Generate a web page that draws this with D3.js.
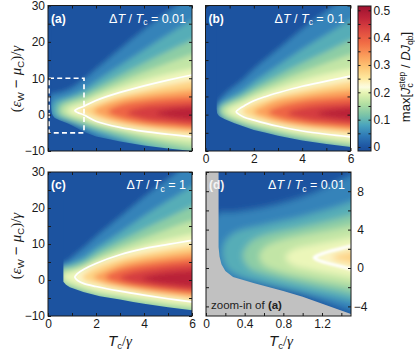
<!DOCTYPE html>
<html>
<head>
<meta charset="utf-8">
<script src="https://cdn.jsdelivr.net/npm/d3@7"></script>
<style>
body { margin: 0; background: #fff; }
svg { display: block; font-family: "Liberation Sans", Arial, Helvetica, sans-serif; }
</style>
</head>
<body>
<div id="chart"></div>
<script>
// ---- data ----
// contour levels of max[J/DJ]; each contour is a list of [Tc/gamma, (eps-mu)/gamma] points
var levels = [0.03, 0.07, 0.11, 0.15, 0.19, 0.215, 0.25, 0.30, 0.36, 0.42, 0.46];

// panel (a) dT/Tc = 0.01 (also shown zoomed in panel d)
var contoursA = [
  [[6.5,35.5],[6,33],[5,28.3],[4,23.3],[3,18],[2,12.5],[1.5,9.7],[1,7.4],[0.6,6.3],[0.3,5.8],[0.12,5.6],[0.05,3],[0.08,0],[0.2,-1.0],[0.5,-1.7],[1,-2.8],[1.5,-4.5],[2,-6.3],[3,-8],[4,-10],[5,-11.5],[6,-12.5],[6.5,-13]],
  [[6.5,28],[6,26],[5,22],[4,17.8],[3,13.5],[2,9.2],[1.5,6.9],[1,5.4],[0.6,4.5],[0.3,3.7],[0.2,2.8],[0.17,1.5],[0.22,0],[0.35,-0.8],[0.6,-1.5],[1,-2.4],[1.5,-3.5],[2,-4.8],[3,-7.0],[4,-9.2],[5,-11],[6,-12],[6.5,-12.5]],
  [[6.5,22],[6,20.5],[5,17.4],[4,14.2],[3,10.8],[2,7.3],[1.5,5.5],[1,4.3],[0.6,3.4],[0.45,2.6],[0.38,1.3],[0.45,0],[0.6,-0.6],[1,-1.6],[1.5,-2.7],[2,-3.9],[3,-5.9],[4,-7.8],[5,-9.3],[6,-10.5],[6.5,-11]],
  [[6.5,17.5],[6,16.5],[5,14.2],[4,11.7],[3,9.0],[2,6.0],[1.5,4.4],[1,3.4],[0.75,2.8],[0.6,2.1],[0.55,1.2],[0.6,0.3],[0.75,-0.3],[1,-0.9],[1.5,-1.9],[2,-3.0],[3,-4.7],[4,-6.3],[5,-7.7],[6,-9.0],[6.5,-9.5]],
  [[6.5,13.4],[6,12.7],[5,11.3],[4,9.5],[3,7.3],[2,4.8],[1.5,3.2],[1.1,2.4],[0.9,1.9],[0.82,1.1],[0.9,0.3],[1.1,-0.2],[1.5,-1.0],[2,-2.3],[3,-3.9],[4,-5.3],[5,-6.4],[6,-7.2],[6.5,-7.6]],
  [[6.5,11.5],[6,10.9],[5,9.5],[4,7.9],[3,6.1],[2,3.9],[1.5,2.3],[1.3,1.8],[1.18,1.4],[1.12,1.08],[1.18,0.75],[1.3,0.4],[1.5,-0.1],[2,-1.8],[3,-3.5],[4,-4.6],[5,-5.4],[6,-6.1],[6.5,-6.4]],
  [[6.5,10],[6,9.4],[5,8.2],[4,6.8],[3,5.3],[2,3.1],[1.5,1.75],[1.35,1.4],[1.3,1.1],[1.35,0.8],[1.5,0.45],[2,-1.0],[3,-2.8],[4,-3.9],[5,-4.7],[6,-5.4],[6.5,-5.7]],
  [[6.5,7.4],[6,7.0],[5,6.2],[4,5.3],[3,4.1],[2.3,2.6],[1.9,1.0],[2.3,-0.5],[3,-1.9],[4,-3.1],[5,-3.8],[6,-4.3],[6.5,-4.6]],
  [[6.5,5.3],[6,5.0],[5,4.5],[4,3.8],[3,2.6],[2.5,0.8],[3,-0.8],[4,-2.3],[5,-3.0],[6,-3.6],[6.5,-3.9]],
  [[6.5,3.5],[6,3.2],[5,2.8],[4,2.1],[3.3,0.5],[4,-1.2],[5,-2.0],[6,-2.6],[6.5,-2.9]],
  [[6.5,2.3],[6,2.0],[5,1.3],[4.5,0.4],[5,-0.6],[6,-1.4],[6.5,-1.7]]
];
// region with no data in (a) / (d)
var maskA = [[-1,45],[0.13,45],[0.13,2.2],[0.14,1.2],[0.16,0.4],[0.2,-0.3],[0.28,-0.95],[0.5,-1.6],[0.8,-2.4],[1.0,-3.0],[1.5,-4.8],[2,-6.0],[3,-7.4],[4,-8.5],[5,-9.3],[6,-10.0],[7,-10.6],[7,-15],[-1,-15]];

// panel (b) dT/Tc = 0.1
var contoursB = [
  [[6.5,35.5],[6,33],[5,28.5],[4,23.5],[3,18],[2,12.5],[1.5,9.3],[1,6.8],[0.7,5],[0.55,3.6],[0.47,2.4],[0.44,1.2],[0.47,0],[0.6,-1.2],[1,-2.6],[2,-5],[3,-6.6],[4,-8.1],[5,-9.2],[6,-10.1],[6.5,-10.6]],
  [[6.5,28],[6,26],[5,22],[4,18],[3,13.5],[2,9.0],[1.5,6.5],[1,4.6],[0.7,3.5],[0.55,2.6],[0.5,1.3],[0.55,0],[0.7,-1.1],[1,-2.1],[2,-4.5],[3,-6.2],[4,-7.6],[5,-8.8],[6,-9.7],[6.5,-10.2]],
  [[6.5,22],[6,20.5],[5,17.3],[4,14.2],[3,10.8],[2,7.2],[1.5,5.2],[1,3.6],[0.75,2.7],[0.62,2.0],[0.56,1.2],[0.62,0.2],[0.75,-0.7],[1,-1.6],[1.5,-2.9],[2,-3.9],[3,-5.6],[4,-7.0],[5,-8.1],[6,-9.1],[6.5,-9.6]],
  [[6.5,17.5],[6,16.5],[5,14.2],[4,11.7],[3,9.0],[2,6.0],[1.5,4.3],[1,2.9],[0.8,2.2],[0.68,1.1],[0.8,0],[1,-0.8],[1.5,-2.0],[2,-3.0],[3,-4.7],[4,-6.1],[5,-7.3],[6,-8.3],[6.5,-8.8]],
  [[6.5,13.4],[6,12.7],[5,11.3],[4,9.5],[3,7.3],[2,4.8],[1.5,3.2],[1.1,2.1],[0.9,1.0],[1.1,-0.1],[1.5,-1.2],[2,-2.3],[3,-3.8],[4,-5.2],[5,-6.3],[6,-7.1],[6.5,-7.5]],
  [[6.5,11.2],[6,10.6],[5,9.2],[4,7.8],[3,6.0],[2.5,5.0],[2,3.8],[1.6,2.4],[1.4,1.6],[1.27,0.8],[1.4,0.0],[1.6,-0.7],[2,-1.5],[2.5,-2.4],[3,-3.2],[4,-4.5],[5,-5.4],[6,-6.1],[6.5,-6.4]],
  [[6.5,9.8],[6,9.2],[5,8.0],[4,6.7],[3,5.2],[2,3.0],[1.7,2.0],[1.5,0.9],[1.7,-0.2],[2,-0.9],[3,-2.6],[4,-3.8],[5,-4.6],[6,-5.3],[6.5,-5.6]],
  [[6.5,7.4],[6,7.0],[5,6.2],[4,5.2],[3,4.0],[2.4,2.4],[2.0,0.8],[2.4,-0.6],[3,-1.9],[4,-3.0],[5,-3.7],[6,-4.3],[6.5,-4.6]],
  [[6.5,5.3],[6,5.0],[5,4.4],[4,3.7],[3.1,2.3],[2.6,0.6],[3.1,-0.9],[4,-2.2],[5,-3.0],[6,-3.5],[6.5,-3.8]],
  [[6.5,3.4],[6,3.1],[5,2.7],[4.1,1.9],[3.4,0.4],[4.1,-1.1],[5,-1.9],[6,-2.5],[6.5,-2.8]],
  [[6.5,2.2],[6,1.9],[5.1,1.2],[4.6,0.3],[5.1,-0.6],[6,-1.3],[6.5,-1.6]]
];
var maskB = [[-1,45],[0.46,45],[0.46,1.6],[0.48,0.4],[0.53,-0.2],[0.6,-0.6],[0.8,-1.3],[1.2,-2.4],[2,-4.2],[2.5,-5.0],[3,-5.8],[4,-7.1],[5,-8.1],[6,-8.9],[7,-9.6],[7,-15],[-1,-15]];

// panel (c) dT/Tc = 1
var contoursC = [
  [[6.5,35.5],[6,33],[5,28],[4,23],[3,17.5],[2,12],[1.5,9],[1,6.3],[0.8,5.2],[0.6,4.6],[0.5,3],[0.55,-2],[1,-4],[3,-8],[6.5,-12]],
  [[6.5,28],[6,26],[5,22],[4,17.8],[3,13.2],[2,8.8],[1.5,6.3],[1,4.7],[0.8,4.2],[0.6,3.9],[0.5,2],[0.55,-1.5],[1,-3],[3,-7],[6.5,-11]],
  [[6.5,22],[6,20.5],[5,17.3],[4,14.2],[3,10.8],[2,7.2],[1.5,5.0],[1,3.8],[0.8,3.5],[0.6,3.3],[0.55,1.5],[0.6,-1.3],[1,-2.6],[1.5,-3.8],[2,-4.9],[3,-6.2],[4,-7.4],[5,-8.4],[6,-9.2],[6.5,-9.6]],
  [[6.5,17.5],[6,16.5],[5,14.2],[4,11.7],[3,9.0],[2,6.0],[1.5,4.2],[1,3.0],[0.8,2.7],[0.6,2.5],[0.56,1.0],[0.6,-0.7],[0.8,-1.3],[1,-1.8],[1.5,-2.9],[2,-3.9],[3,-5.0],[4,-6.2],[5,-7.2],[6,-8.0],[6.5,-8.4]],
  [[6.5,13.4],[6,12.8],[5,11.4],[4,9.6],[3,7.4],[2,4.9],[1.5,3.3],[1,2.2],[0.8,1.8],[0.62,1.0],[0.8,0],[1,-0.7],[1.5,-1.9],[2,-2.9],[3,-4.2],[4,-5.3],[5,-6.3],[6,-7.1],[6.5,-7.5]],
  [[6.5,11.6],[6,11.0],[5,9.9],[4,8.7],[3,7.0],[2,4.6],[1.5,3.0],[1.25,1.9],[1.15,1.2],[1.12,0.8],[1.15,0.4],[1.25,-0.2],[1.5,-1.0],[2,-1.8],[3,-3.1],[4,-4.2],[5,-5.2],[6,-6.1],[6.5,-6.5]],
  [[6.5,10.3],[6,9.7],[5,8.6],[4,7.4],[3,5.9],[2,3.6],[1.6,2.0],[1.4,0.8],[1.6,-0.3],[2,-1.0],[3,-2.5],[4,-3.6],[5,-4.6],[6,-5.4],[6.5,-5.8]],
  [[6.5,8.2],[6,7.8],[5,6.9],[4,5.9],[3,4.4],[2.3,2.4],[1.9,0.8],[2.3,-0.6],[3,-1.7],[4,-2.9],[5,-3.8],[6,-4.6],[6.5,-5.0]],
  [[6.5,6.3],[6,6.0],[5,5.3],[4,4.4],[3,2.9],[2.4,0.8],[3,-1.0],[4,-2.1],[5,-3.0],[6,-3.7],[6.5,-4.0]],
  [[6.5,4.5],[6,4.3],[5,3.7],[4,2.7],[3.4,1.8],[3.0,0.7],[3.4,-0.5],[4,-1.3],[5,-2.2],[6,-2.9],[6.5,-3.2]],
  [[6.5,2.9],[6,2.6],[5,2.0],[4.3,1.2],[3.9,0.5],[4.3,-0.4],[5,-1.1],[6,-1.8],[6.5,-2.1]]
];
var maskC = [[-1,45],[0.64,45],[0.64,-0.5],[0.75,-1.3],[0.91,-2.0],[1.47,-3.3],[2.16,-4.5],[3,-5.4],[3.55,-6.1],[4,-6.6],[5,-7.6],[6,-8.4],[7,-9.1],[7,-15],[-1,-15]];

// ticks and labels
var xTicksMain = [0, 1, 2, 3, 4, 5, 6];
var xLabelsMain = [0, 2, 4, 6];
var yTicksMain = [-10, -5, 0, 5, 10, 15, 20, 25, 30];
var yLabelsMain = [-10, 0, 10, 20, 30];
var xTicksZoom = [0, 0.2, 0.4, 0.6, 0.8, 1.0, 1.2, 1.4];
var xLabelsZoom = [0, 0.4, 0.8, 1.2];
var yTicksZoom = [-4, -2, 0, 2, 4, 6, 8, 10];
var yLabelsZoom = [-4, 0, 4, 8];
var cbTicks = [0, 0.05, 0.1, 0.15, 0.2, 0.25, 0.3, 0.35, 0.4, 0.45, 0.5];
var cbLabels = [0, 0.1, 0.2, 0.3, 0.4, 0.5];
var dtValues = ['0.01', '0.1', '1', '0.01'];

// ---- drawing ----
var width = 415, height = 350;
var bg = '#1c53a0', grey = '#c1c1c1', ink = '#1a1a1a';
var serif = '"Liberation Serif", "Times New Roman", serif';

var cmap = d3.scaleLinear()
  .domain([-0.02, 0, 0.04, 0.08, 0.12, 0.16, 0.2, 0.22, 0.25, 0.29, 0.33, 0.38, 0.43, 0.47, 0.52])
  .range(['#1a4e9c', '#1c53a0', '#2e78b7', '#4aa4bd', '#7fc6a6', '#b6e0a2', '#e8f5b3', '#fdfde3', '#fee9a0', '#fdc877', '#fba15c', '#f26d45', '#dc4640', '#c0263a', '#9c0f2e'])
  .clamp(true);

function bandValue(i) {
  var hi = i + 1 < levels.length ? levels[i + 1] : 0.5;
  return (levels[i] + hi) / 2;
}

var svg = d3.select('#chart').append('svg')
  .attr('width', width)
  .attr('height', height);
var defs = svg.append('defs');

function addBlur(id, sdx, sdy) {
  defs.append('filter').attr('id', id)
    .attr('x', '-5%').attr('y', '-5%').attr('width', '110%').attr('height', '110%')
    .append('feGaussianBlur').attr('stdDeviation', sdx + ' ' + sdy);
}
addBlur('blurMain', 2.6, 2.4);
addBlur('blurZoom', 3.4, 3);
addBlur('lineMain', 0.45, 0.45);
addBlur('lineZoom', 1.1, 1.1);

function dtLabel(g, xr, yb, val) {
  var t = g.append('text')
    .attr('x', xr).attr('y', yb)
    .attr('text-anchor', 'end')
    .attr('fill', '#fff')
    .style('font-size', '12.5px');
  t.append('tspan').text('\u0394');
  t.append('tspan').style('font-style', 'italic').text('T');
  t.append('tspan').text(' / ');
  t.append('tspan').style('font-style', 'italic').text('T');
  t.append('tspan').attr('dy', 2.5).style('font-size', '8.5px').text('c');
  t.append('tspan').attr('dy', -2.5).text(' = ' + val);
}

function panel(p) {
  var x = d3.scaleLinear().domain(p.xd).range([p.x0, p.x1]);
  var y = d3.scaleLinear().domain(p.yd).range([p.y1, p.y0]);
  var g = svg.append('g').attr('class', 'panel');

  defs.append('clipPath').attr('id', 'clip-' + p.id)
    .append('rect')
    .attr('x', p.x0).attr('y', p.y0)
    .attr('width', p.x1 - p.x0).attr('height', p.y1 - p.y0);

  var plot = g.append('g').attr('clip-path', 'url(#clip-' + p.id + ')');

  var smooth = d3.line()
    .x(function(d){ return x(d[0]); })
    .y(function(d){ return y(d[1]); })
    .curve(d3.curveCatmullRom.alpha(0.5));
  var straight = d3.line()
    .x(function(d){ return x(d[0]); })
    .y(function(d){ return y(d[1]); });

  var bands = plot.append('g').attr('filter', 'url(#' + p.blur + ')');
  bands.append('rect')
    .attr('x', p.x0 - 20).attr('y', p.y0 - 20)
    .attr('width', p.x1 - p.x0 + 40).attr('height', p.y1 - p.y0 + 40)
    .attr('fill', bg);
  bands.selectAll('path.band')
    .data(p.contours)
    .enter()
    .append('path')
    .attr('class', 'band')
    .attr('d', function(d){ return smooth(d) + 'Z'; })
    .attr('fill', function(d, i){ return cmap(bandValue(i)); });

  // the white level line of the colour map
  plot.append('path')
    .attr('d', smooth(p.contours[5]))
    .attr('fill', 'none')
    .attr('stroke', '#ffffff')
    .attr('stroke-width', p.lineW)
    .attr('filter', 'url(#' + p.lineBlur + ')');

  plot.append('path')
    .attr('d', straight(p.mask) + 'Z')
    .attr('fill', p.maskColor);

  if (p.box) {
    plot.append('rect')
      .attr('x', x(p.box[0]) + 1).attr('y', y(p.box[3]))
      .attr('width', x(p.box[1]) - x(p.box[0]) - 1)
      .attr('height', y(p.box[2]) - y(p.box[3]))
      .attr('fill', 'none')
      .attr('stroke', '#fff')
      .attr('stroke-width', 1.7)
      .attr('stroke-dasharray', '5,3.2');
  }

  // ticks on all four sides, pointing inward
  function fmt(list){ return function(v){ return list.indexOf(v) >= 0 ? d3.format('')(v) : ''; }; }
  function clean(sel){
    sel.select('.domain').remove();
    sel.attr('font-size', null).attr('font-family', null)
      .style('font-size', '12px').style('color', ink);
  }
  g.append('g').attr('transform', 'translate(0,' + p.y1 + ')')
    .call(d3.axisBottom(x).tickValues(p.xt).tickSize(-3).tickPadding(3.5).tickFormat(fmt(p.xl)))
    .call(clean);
  g.append('g').attr('transform', 'translate(0,' + p.y0 + ')')
    .call(d3.axisTop(x).tickValues(p.xt).tickSize(-3).tickFormat(''))
    .call(clean);
  g.append('g').attr('transform', 'translate(' + p.x0 + ',0)')
    .call(d3.axisLeft(y).tickValues(p.yt).tickSize(-3).tickPadding(3).tickFormat(p.ylSide === 'left' ? fmt(p.yl) : ''))
    .call(clean);
  var right = g.append('g').attr('transform', 'translate(' + p.x1 + ',0)')
    .call(d3.axisRight(y).tickValues(p.yt).tickSize(-3).tickFormat(p.ylSide === 'right' ? fmt(p.yl) : ''))
    .call(clean);
  if (p.ylSide === 'right') {
    right.selectAll('text').attr('x', 9.5).attr('text-anchor', 'middle');
  }

  g.append('rect')
    .attr('x', p.x0).attr('y', p.y0)
    .attr('width', p.x1 - p.x0).attr('height', p.y1 - p.y0)
    .attr('fill', 'none')
    .attr('stroke', ink)
    .attr('stroke-width', 1);

  g.append('text')
    .attr('x', p.x0 + 3).attr('y', p.y0 + 17)
    .attr('fill', p.tagColor)
    .style('font-size', '12px')
    .style('font-weight', 'bold')
    .text(p.tag);

  dtLabel(g, p.x1 - 6, p.y0 + 17, p.dt);
  return { x: x, y: y, g: g };
}

panel({ id: 'a', x0: 48, x1: 192, y0: 5.5, y1: 151, xd: [0, 6], yd: [-10, 30],
  contours: contoursA, mask: maskA, maskColor: bg, blur: 'blurMain', lineBlur: 'lineMain', lineW: 1.7,
  xt: xTicksMain, xl: [], yt: yTicksMain, yl: yLabelsMain, ylSide: 'left',
  box: [0, 1.5, -5, 10], tag: '(a)', tagColor: '#fff', dt: dtValues[0] });

panel({ id: 'b', x0: 205.5, x1: 350.5, y0: 5.5, y1: 151, xd: [0, 6], yd: [-10, 30],
  contours: contoursB, mask: maskB, maskColor: bg, blur: 'blurMain', lineBlur: 'lineMain', lineW: 1.7,
  xt: xTicksMain, xl: xLabelsMain, yt: yTicksMain, yl: [], ylSide: 'none',
  tag: '(b)', tagColor: '#fff', dt: dtValues[1] });

panel({ id: 'c', x0: 48, x1: 192, y0: 172, y1: 316, xd: [0, 6], yd: [-10, 30],
  contours: contoursC, mask: maskC, maskColor: bg, blur: 'blurMain', lineBlur: 'lineMain', lineW: 1.7,
  xt: xTicksMain, xl: xLabelsMain, yt: yTicksMain, yl: yLabelsMain, ylSide: 'left',
  tag: '(c)', tagColor: '#fff', dt: dtValues[2] });

var pd = panel({ id: 'd', x0: 206, x1: 351, y0: 172, y1: 316, xd: [0, 1.5], yd: [-5, 10],
  contours: contoursA, mask: maskA, maskColor: grey, blur: 'blurZoom', lineBlur: 'lineZoom', lineW: 3,
  xt: xTicksZoom, xl: xLabelsZoom, yt: yTicksZoom, yl: yLabelsZoom, ylSide: 'right',
  tag: '(d)', tagColor: '#f4f4f4', dt: dtValues[3] });

var zt = pd.g.append('text')
  .attr('x', 211).attr('y', 309)
  .attr('fill', '#222')
  .style('font-size', '11.5px');
zt.append('tspan').text('zoom-in of ');
zt.append('tspan').style('font-weight', 'bold').text('(a)');

// colour bar
var cbX0 = 358, cbX1 = 371, cbY0 = 6, cbY1 = 151;
var cbScale = d3.scaleLinear().domain([0, 0.5]).range([147, 10.3]);
var grad = defs.append('linearGradient').attr('id', 'cbGrad')
  .attr('x1', 0).attr('y1', 1).attr('x2', 0).attr('y2', 0);
var vBottom = cbScale.invert(cbY1), vTop = cbScale.invert(cbY0);
d3.range(0, 1.0001, 0.02).forEach(function(t){
  grad.append('stop').attr('offset', t).attr('stop-color', cmap(vBottom + t * (vTop - vBottom)));
});
svg.append('rect')
  .attr('x', cbX0).attr('y', cbY0)
  .attr('width', cbX1 - cbX0).attr('height', cbY1 - cbY0)
  .attr('fill', 'url(#cbGrad)')
  .attr('stroke', ink).attr('stroke-width', 1);
svg.append('g').attr('transform', 'translate(' + cbX1 + ',0)')
  .call(d3.axisRight(cbScale).tickValues(cbTicks).tickSize(-2.5).tickPadding(2.5)
    .tickFormat(function(v){ return cbLabels.indexOf(v) >= 0 ? d3.format('')(v) : ''; }))
  .call(function(s){
    s.select('.domain').remove();
    s.attr('font-size', null).attr('font-family', null).style('font-size', '12px').style('color', ink);
  });
svg.append('g').attr('transform', 'translate(' + cbX0 + ',0)')
  .call(d3.axisLeft(cbScale).tickValues(cbTicks).tickSize(-2.5).tickFormat(''))
  .call(function(s){ s.select('.domain').remove(); s.style('color', ink); });

var cbl = svg.append('text')
  .attr('transform', 'translate(410,77) rotate(-90)')
  .attr('text-anchor', 'middle')
  .attr('fill', ink)
  .style('font-size', '13px');
cbl.append('tspan').text('max[');
cbl.append('tspan').style('font-style', 'italic').text('J');
cbl.append('tspan').attr('dy', 3).style('font-size', '8.5px').text('c');
cbl.append('tspan').attr('dx', -4.5).attr('dy', -8.5).style('font-size', '8.5px').text('step');
cbl.append('tspan').attr('dy', 5.5).text(' / ');
cbl.append('tspan').style('font-style', 'italic').text('DJ');
cbl.append('tspan').attr('dy', 3).style('font-size', '8.5px').text('qb');
cbl.append('tspan').attr('dy', -3).text(']');

// axis titles
function yTitle(cx, cy) {
  var t = svg.append('text')
    .attr('transform', 'translate(' + cx + ',' + cy + ') rotate(-90)')
    .attr('text-anchor', 'middle')
    .attr('fill', ink)
    .style('font-size', '15px');
  t.append('tspan').attr('font-family', serif).text('(');
  t.append('tspan').attr('font-family', serif).style('font-style', 'italic').text('\u03b5');
  t.append('tspan').attr('dy', 3).style('font-size', '9.5px').text('W');
  t.append('tspan').attr('dy', -3).text(' \u2212 ');
  t.append('tspan').attr('font-family', serif).style('font-style', 'italic').text('\u03bc');
  t.append('tspan').attr('dy', 3).style('font-size', '9.5px').text('C');
  t.append('tspan').attr('dy', -3).attr('font-family', serif).text(')/');
  t.append('tspan').attr('font-family', serif).style('font-style', 'italic').text('\u03b3');
}
yTitle(21, 79);
yTitle(21, 246);

function xTitle(cx, cy) {
  var t = svg.append('text')
    .attr('x', cx).attr('y', cy)
    .attr('text-anchor', 'middle')
    .attr('fill', ink)
    .style('font-size', '15px');
  t.append('tspan').style('font-style', 'italic').text('T');
  t.append('tspan').attr('dy', 3).style('font-size', '9.5px').text('c');
  t.append('tspan').attr('dy', -3).attr('font-family', serif).text('/');
  t.append('tspan').attr('font-family', serif).style('font-style', 'italic').text('\u03b3');
}
xTitle(120, 346);
xTitle(281, 346);
</script>
</body>
</html>
